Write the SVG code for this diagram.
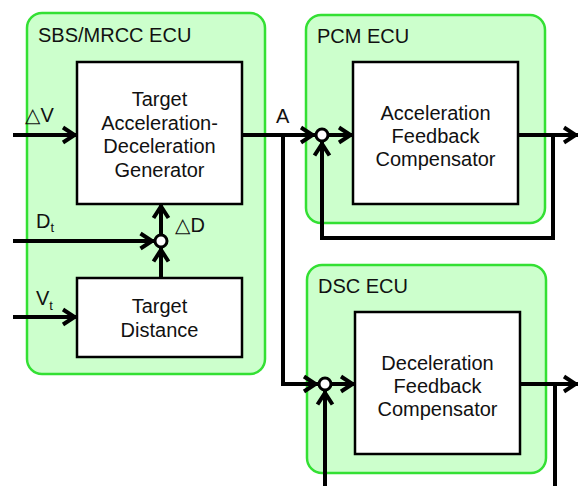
<svg xmlns="http://www.w3.org/2000/svg" width="578" height="486" viewBox="0 0 578 486">
<style>
.ecu{fill:#ccffcc;stroke:#33e033;stroke-width:2.5}
.blk{fill:#fff;stroke:#000;stroke-width:2.5}
.sum{fill:#fff;stroke:#000;stroke-width:3}
.w{fill:none;stroke:#000;stroke-width:4;stroke-linejoin:miter}
text{font-family:"Liberation Sans","DejaVu Sans",Arial,sans-serif;font-size:20px;fill:#111}
.c{text-anchor:middle}
.sub{font-size:13px}
</style>
<defs>
<marker id="ah" markerUnits="userSpaceOnUse" markerWidth="24" markerHeight="24" viewBox="-18 -12 24 24" refX="0" refY="0" orient="auto" overflow="visible">
<path d="M-14,-7.5 L-2.5,0 L-14,7.5" fill="none" stroke="#000" stroke-width="4"/>
</marker>
</defs>
<g id="sbs-ecu">
<rect class="ecu" x="27" y="13" width="238" height="361" rx="15"/>
<text x="38" y="41.5">SBS/MRCC ECU</text>
</g>
<g id="pcm-ecu">
<rect class="ecu" x="306" y="15" width="239" height="208" rx="15"/>
<text x="317" y="42.5">PCM ECU</text>
</g>
<g id="dsc-ecu">
<rect class="ecu" x="307" y="265" width="239" height="208" rx="15"/>
<text x="318" y="293">DSC ECU</text>
</g>
<g id="connectors">
<path class="w" d="M13,135 L77,135" marker-end="url(#ah)"/>
<path class="w" d="M242,135 L315,135" marker-end="url(#ah)"/>
<path class="w" d="M328,135 L353,135" marker-end="url(#ah)"/>
<path class="w" d="M518,135 L578,135" marker-end="url(#ah)"/>
<path class="w" d="M553,135 L553,238 L322,238 L322,141.5" marker-end="url(#ah)"/>
<path class="w" d="M283,135 L283,384 L318,384" marker-end="url(#ah)"/>
<path class="w" d="M331,384 L355,384" marker-end="url(#ah)"/>
<path class="w" d="M520,384 L578,384" marker-end="url(#ah)"/>
<path class="w" d="M555,384 L555,486"/>
<path class="w" d="M325,486 L325,390.5" marker-end="url(#ah)"/>
<path class="w" d="M13,241 L154.5,241" marker-end="url(#ah)"/>
<path class="w" d="M161,278 L161,247.5" marker-end="url(#ah)"/>
<path class="w" d="M161,234.5 L161,204" marker-end="url(#ah)"/>
<path class="w" d="M13,317 L77,317" marker-end="url(#ah)"/>
</g>
<g id="generator">
<rect class="blk" x="77" y="62" width="165" height="142"/>
<text class="c" x="159.5" y="106">Target</text>
<text class="c" x="159.5" y="130">Acceleration-</text>
<text class="c" x="159.5" y="153">Deceleration</text>
<text class="c" x="159.5" y="177">Generator</text>
</g>
<g id="target-distance">
<rect class="blk" x="77" y="278" width="165" height="79"/>
<text class="c" x="159.5" y="313">Target</text>
<text class="c" x="159.5" y="337">Distance</text>
</g>
<g id="acc-comp">
<rect class="blk" x="353" y="62" width="165" height="142"/>
<text class="c" x="435.5" y="120">Acceleration</text>
<text class="c" x="435.5" y="143">Feedback</text>
<text class="c" x="435.5" y="166">Compensator</text>
</g>
<g id="dec-comp">
<rect class="blk" x="355" y="312" width="165" height="142"/>
<text class="c" x="437.5" y="370">Deceleration</text>
<text class="c" x="437.5" y="393">Feedback</text>
<text class="c" x="437.5" y="416">Compensator</text>
</g>
<g id="sum-d"><circle class="sum" cx="161" cy="241" r="6"/></g>
<g id="sum-pcm"><circle class="sum" cx="322" cy="135" r="6"/></g>
<g id="sum-dsc"><circle class="sum" cx="325" cy="384" r="6"/></g>
<g id="labels">
<text x="25" y="122">△V</text>
<text x="276" y="123">A</text>
<text x="36" y="228">D<tspan class="sub" dy="4">t</tspan></text>
<text x="36" y="305">V<tspan class="sub" dy="5">t</tspan></text>
<text x="175" y="232">△D</text>
</g>
</svg>
